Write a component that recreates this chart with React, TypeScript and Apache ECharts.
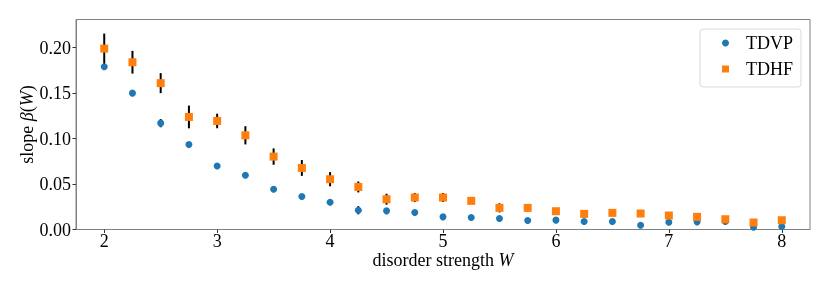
import React, { useEffect, useRef } from "react";
import * as echarts from "echarts";

const W = [2, 2.25, 2.5, 2.75, 3, 3.25, 3.5, 3.75, 4, 4.25, 4.5, 4.75, 5, 5.25, 5.5, 5.75, 6, 6.25, 6.5, 6.75, 7, 7.25, 7.5, 7.75, 8];
const tdvp = [0.179, 0.150, 0.117, 0.0934, 0.0699, 0.0597, 0.0443, 0.0363, 0.030, 0.0212, 0.0205, 0.0187, 0.0139, 0.0132, 0.0121, 0.0099, 0.0103, 0.0088, 0.0088, 0.0047, 0.008, 0.0084, 0.0088, 0.0025, 0.0033];
const tdvpErr = [0.002, 0.002, 0.0045, 0.002, 0.002, 0.002, 0.002, 0.002, 0.002, 0.0045, 0.002, 0.002, 0.002, 0.002, 0.002, 0.002, 0.002, 0.002, 0.002, 0.002, 0.002, 0.002, 0.002, 0.002, 0.002];
const tdhf = [0.199, 0.184, 0.161, 0.1238, 0.1194, 0.1036, 0.0802, 0.0677, 0.0553, 0.0468, 0.0333, 0.0352, 0.0352, 0.0315, 0.0238, 0.0238, 0.0201, 0.0172, 0.0183, 0.0176, 0.0154, 0.0139, 0.0113, 0.0077, 0.0102];
const tdhfErr = [0.0165, 0.0125, 0.011, 0.0125, 0.008, 0.010, 0.009, 0.0087, 0.0078, 0.006, 0.006, 0.005, 0.005, 0.002, 0.005, 0.004, 0.002, 0.004, 0.002, 0.002, 0.003, 0.003, 0.002, 0.002, 0.002];
const xTicks = [2, 3, 4, 5, 6, 7, 8];
const yTicks = [0, 0.05, 0.1, 0.15, 0.2];

const FONT = "'Liberation Serif', 'Times New Roman', serif";

function errSeries(vals: number[], errs: number[], z: number) {
  return {
    type: "custom",
    z,
    silent: true,
    data: W.map((w, i) => [w, vals[i], errs[i]]),
    encode: { x: 0, y: 1 },
    renderItem: (_p: any, api: any) => {
      const x = api.value(0);
      const y = api.value(1);
      const e = api.value(2);
      const a = api.coord([x, y - e]);
      const b = api.coord([x, y + e]);
      return {
        type: "line",
        shape: { x1: a[0], y1: a[1], x2: b[0], y2: b[1] },
        style: { stroke: "#000", lineWidth: 2 },
      };
    },
  };
}

export default function App() {
  const ref = useRef<HTMLDivElement>(null);
  useEffect(() => {
    if (!ref.current) return;
    const chart = echarts.init(ref.current, null, { renderer: "svg" });
    chart.setOption({
      animation: false,
      textStyle: { fontFamily: FONT, color: "#000" },
      grid: { left: 76, top: 19.5, right: 20, bottom: 61.5, show: true, borderColor: "#808080", borderWidth: 1 },
      legend: {
        orient: "vertical",
        right: 29,
        top: 29,
        padding: [5, 8, 9, 22],
        itemGap: 8,
        itemWidth: 7,
        itemHeight: 7,
        borderColor: "#d9d9d9",
        borderWidth: 1,
        borderRadius: 3,
        textStyle: { fontFamily: FONT, fontSize: 18, color: "#000", padding: [0, 0, 0, 12] },
        data: [
          { name: "TDVP", icon: "circle" },
          { name: "TDHF", icon: "rect" },
        ],
      },
      xAxis: {
        type: "value",
        min: 1.75,
        max: 8.25,
        name: "disorder strength {i|W}",
        nameLocation: "middle",
        nameGap: 21,
        nameMoveOverlap: false,
        nameTextStyle: {
          fontFamily: FONT,
          fontSize: 18,
          color: "#000",
          rich: { i: { fontFamily: FONT, fontSize: 18, fontStyle: "italic", color: "#000" } },
        },
        axisLine: { show: true, lineStyle: { color: "#808080", width: 1 } },
        axisTick: { show: true, length: 3.5, lineStyle: { color: "#333" }, customValues: xTicks },
        axisLabel: { fontFamily: FONT, fontSize: 18, color: "#000", margin: 2, customValues: xTicks },
        splitLine: { show: false },
      },
      yAxis: {
        type: "value",
        min: 0,
        max: 0.231,
        name: "slope {i|β}({i|W})",
        nameLocation: "middle",
        nameGap: 40,
        nameMoveOverlap: false,
        nameTextStyle: {
          fontFamily: FONT,
          fontSize: 18,
          color: "#000",
          rich: { i: { fontFamily: FONT, fontSize: 18, fontStyle: "italic", color: "#000" } },
        },
        axisLine: { show: true, lineStyle: { color: "#808080", width: 1 } },
        axisTick: { show: true, length: 3.5, lineStyle: { color: "#333" }, customValues: yTicks },
        axisLabel: {
          fontFamily: FONT,
          fontSize: 18,
          color: "#000",
          margin: 5,
          customValues: yTicks,
          formatter: (v: number) => v.toFixed(2),
        },
        splitLine: { show: false },
      },
      series: [
        errSeries(tdvp, tdvpErr, 2),
        {
          name: "TDVP",
          type: "scatter",
          z: 3,
          symbol: "circle",
          symbolSize: 7,
          itemStyle: { color: "#1f77b4", opacity: 1 },
          data: W.map((w, i) => [w, tdvp[i]]),
        },
        errSeries(tdhf, tdhfErr, 4),
        {
          name: "TDHF",
          type: "scatter",
          z: 5,
          symbol: "rect",
          symbolSize: 8,
          itemStyle: { color: "#ff7f0e", opacity: 1 },
          data: W.map((w, i) => [w, tdhf[i]]),
        },
      ],
    });
    return () => chart.dispose();
  }, []);
  return <div ref={ref} style={{ position: "fixed", left: 0, top: 0, width: 830, height: 291 }} />;
}
